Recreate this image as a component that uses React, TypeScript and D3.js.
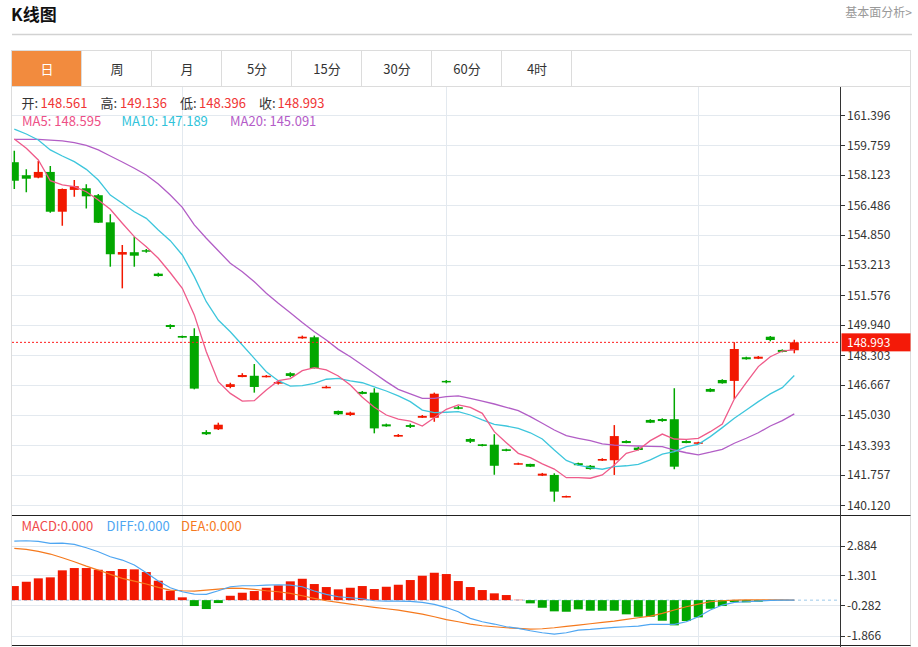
import React from 'react';
import * as d3 from 'd3';

// daily candles, oldest first: open, high, low, close
const opens = [158.82, 158.11, 157.98, 158.29, 156.12, 157.31, 157.40, 157.02, 155.54, 153.78, 153.91, 154.02, 152.74, 149.94, 149.34, 149.34, 144.10, 144.25, 146.56, 147.10, 147.17, 147.10, 146.74, 147.31, 149.21, 149.27, 146.50, 145.25, 145.03, 146.29, 146.25, 144.52, 143.85, 144.48, 144.88, 144.88, 146.89, 145.45, 143.72, 143.43, 143.41, 143.16, 142.34, 142.36, 141.72, 141.76, 140.56, 142.40, 142.26, 142.54, 142.56, 143.61, 143.25, 144.76, 144.81, 144.80, 143.61, 143.46, 146.45, 146.94, 146.89, 148.18, 148.10, 149.30, 148.58, 148.561];
const highs = [159.45, 158.43, 158.89, 158.61, 157.38, 157.85, 157.62, 157.09, 155.98, 154.30, 154.76, 154.09, 152.79, 149.98, 149.36, 149.76, 144.20, 144.61, 146.79, 147.31, 147.81, 147.21, 146.89, 147.36, 149.36, 149.36, 146.63, 145.27, 145.21, 146.34, 146.49, 144.56, 143.99, 144.56, 145.03, 146.25, 146.94, 145.52, 143.76, 143.45, 143.98, 143.19, 142.43, 142.37, 141.87, 141.85, 140.63, 142.43, 142.30, 142.67, 144.48, 143.65, 143.30, 144.80, 144.85, 146.49, 143.65, 143.57, 146.49, 146.98, 149.00, 148.21, 148.25, 149.34, 148.61, 149.136];
const lows = [157.36, 157.18, 157.95, 156.07, 155.36, 156.94, 156.29, 155.50, 153.12, 151.94, 153.12, 153.88, 152.58, 149.72, 149.23, 146.43, 143.94, 144.21, 146.49, 147.09, 146.25, 147.08, 146.69, 147.09, 149.19, 147.57, 146.49, 145.03, 144.98, 146.16, 144.03, 144.39, 143.83, 144.32, 144.87, 144.66, 146.76, 145.34, 143.50, 143.32, 141.77, 143.05, 142.32, 142.19, 141.70, 140.30, 140.54, 142.26, 142.05, 142.52, 141.76, 143.49, 143.10, 144.59, 144.66, 142.07, 143.49, 143.45, 146.28, 146.74, 145.90, 148.05, 148.08, 149.05, 148.45, 148.396];
const closes = [157.81, 157.92, 158.29, 156.12, 157.36, 157.51, 156.96, 155.52, 153.80, 153.92, 153.72, 153.94, 152.61, 149.83, 149.25, 146.47, 143.98, 144.50, 146.71, 147.21, 146.56, 147.17, 146.83, 147.16, 149.30, 147.58, 146.57, 145.07, 145.16, 146.18, 144.30, 144.41, 143.94, 144.38, 144.98, 146.19, 146.83, 145.37, 143.57, 143.34, 142.26, 143.07, 142.40, 142.21, 141.83, 140.85, 140.61, 142.29, 142.08, 142.63, 143.88, 143.50, 143.12, 144.61, 144.70, 142.21, 143.50, 143.54, 146.30, 146.76, 148.63, 148.07, 148.21, 149.12, 148.47, 148.993];

const ma5 = [160.09, 159.58, 158.94, 157.81, 157.58, 157.49, 157.21, 156.76, 156.25, 155.49, 154.76, 154.21, 153.58, 152.79, 151.94, 150.49, 148.48, 146.85, 146.21, 145.79, 145.81, 146.39, 146.90, 147.02, 147.45, 147.61, 147.49, 147.16, 146.67, 146.00, 145.45, 145.03, 144.81, 144.70, 144.43, 144.88, 145.34, 145.58, 145.45, 145.12, 144.12, 143.52, 142.94, 142.70, 142.36, 142.08, 141.61, 141.61, 141.58, 141.76, 142.30, 142.94, 143.12, 143.63, 143.99, 143.72, 143.70, 143.76, 144.12, 144.54, 145.90, 146.79, 147.67, 148.21, 148.52, 148.595];
const ma10 = [160.63, 160.36, 160.03, 159.49, 159.16, 158.85, 158.43, 157.85, 157.03, 156.58, 156.12, 155.76, 155.12, 154.54, 153.76, 152.58, 151.21, 150.21, 149.57, 148.85, 148.12, 147.39, 146.90, 146.61, 146.63, 146.76, 146.98, 147.03, 146.89, 146.79, 146.57, 146.34, 146.07, 145.76, 145.30, 145.16, 145.18, 145.21, 145.03, 144.76, 144.52, 144.43, 144.30, 144.06, 143.72, 143.12, 142.55, 142.30, 142.16, 142.07, 142.21, 142.26, 142.34, 142.58, 142.89, 143.03, 143.30, 143.43, 143.85, 144.34, 144.85, 145.30, 145.76, 146.18, 146.52, 147.189];
const ma20 = [160.07, 160.07, 160.07, 160.03, 159.98, 159.89, 159.74, 159.49, 159.16, 158.83, 158.49, 158.12, 157.63, 157.03, 156.36, 155.40, 154.67, 153.99, 153.31, 152.85, 152.30, 151.67, 151.12, 150.61, 150.07, 149.57, 149.12, 148.61, 148.21, 147.76, 147.31, 146.85, 146.43, 146.18, 145.94, 145.94, 146.03, 146.07, 145.94, 145.79, 145.63, 145.45, 145.27, 144.94, 144.58, 144.21, 143.90, 143.76, 143.63, 143.45, 143.39, 143.36, 143.34, 143.32, 143.30, 143.12, 142.97, 142.86, 143.00, 143.16, 143.49, 143.76, 144.06, 144.43, 144.72, 145.091];

const macdHist = [0.744, 0.971, 1.150, 1.203, 1.573, 1.694, 1.694, 1.604, 1.536, 1.641, 1.625, 1.483, 1.024, 0.496, 0.148, -0.311, -0.470, -0.153, 0.232, 0.391, 0.480, 0.654, 0.781, 0.992, 1.129, 0.850, 0.691, 0.570, 0.654, 0.744, 0.586, 0.707, 0.813, 1.061, 1.288, 1.446, 1.377, 1.008, 0.691, 0.533, 0.359, 0.269, 0.02, -0.169, -0.401, -0.591, -0.612, -0.485, -0.559, -0.559, -0.559, -0.749, -0.876, -0.876, -1.087, -1.330, -1.103, -0.908, -0.454, -0.311, -0.100, -0.116, -0.084, -0.032, -0.011, 0];
const diff = [3.119, 3.135, 3.103, 2.997, 3.013, 2.945, 2.765, 2.554, 2.290, 2.116, 1.852, 1.446, 1.008, 0.654, 0.443, 0.322, 0.306, 0.496, 0.707, 0.760, 0.760, 0.797, 0.813, 0.797, 0.707, 0.480, 0.306, 0.179, 0.127, 0.074, -0.032, -0.047, -0.047, -0.063, -0.116, -0.222, -0.391, -0.612, -0.960, -1.140, -1.261, -1.404, -1.488, -1.615, -1.720, -1.789, -1.720, -1.578, -1.541, -1.488, -1.435, -1.404, -1.367, -1.277, -1.277, -1.277, -1.140, -0.876, -0.522, -0.259, -0.116, -0.084, -0.047, -0.011, 0.005, 0];
const dea = [2.734, 2.681, 2.575, 2.433, 2.237, 2.026, 1.799, 1.588, 1.361, 1.150, 1.008, 0.850, 0.675, 0.533, 0.496, 0.480, 0.533, 0.586, 0.639, 0.623, 0.570, 0.496, 0.443, 0.359, 0.232, 0.095, -0.032, -0.116, -0.206, -0.296, -0.380, -0.454, -0.522, -0.628, -0.734, -0.876, -1.024, -1.140, -1.261, -1.351, -1.404, -1.456, -1.488, -1.525, -1.509, -1.456, -1.383, -1.314, -1.245, -1.172, -1.103, -1.013, -0.929, -0.839, -0.697, -0.522, -0.348, -0.206, -0.084, -0.032, 0.005, 0.01, 0.01, 0.01, 0.01, 0];

const priceTicks = ['161.396', '159.759', '158.123', '156.486', '154.850', '153.213', '151.576', '149.940', '148.303', '146.667', '145.030', '143.393', '141.757', '140.120'];
const macdTicks = ['2.884', '1.301', '-0.282', '-1.866'];
const tabs = ['日', '周', '月', '5分', '15分', '30分', '60分', '4时'];
const monthStarts = [14, 36, 57];

const FONT = '"Noto Sans CJK SC", "Noto Sans", sans-serif';
const RED = '#f21800';
const GREEN = '#02a700';
const GRID = '#e3e9ef';

const LEFT = 12;
const AXIS_X = 840;
const RIGHT = 910.5;
const PRICE_TOP = 87;
const PRICE_BOTTOM = 515.5;
const MACD_BOTTOM = 645.5;
const BODY_W = 9;

export default function App() {
  const n = closes.length;
  const x = d3.scaleLinear().domain([0, n - 1]).range([14.3, 14.3 + 12 * (n - 1)]);
  const y = d3.scaleLinear().domain([140.12, 161.396]).range([505, 115]);
  const ym = d3.scaleLinear().domain([-1.866, 2.884]).range([635.5, 545.5]);

  const priceLine = (vals: number[]) =>
    d3.line<number>().x((_, i) => x(i)).y(d => y(d))(vals) || '';
  const macdLine = (vals: number[]) =>
    d3.line<number>().x((_, i) => x(i)).y(d => ym(d))(vals) || '';

  const last = n - 1;
  const lastY = y(closes[last]);

  return (
    <svg width={918} height={647} style={{ position: 'absolute', left: 0, top: 0, fontFamily: FONT }}>
      <defs>
        <clipPath id="pclip">
          <rect x={LEFT} y={PRICE_TOP} width={AXIS_X - LEFT} height={PRICE_BOTTOM - PRICE_TOP} />
        </clipPath>
        <clipPath id="mclip">
          <rect x={LEFT} y={PRICE_BOTTOM} width={AXIS_X - LEFT} height={MACD_BOTTOM - PRICE_BOTTOM} />
        </clipPath>
      </defs>
      <rect width={918} height={647} fill="#fff" />

      {/* title row */}
      <text x={11} y={21} fontSize={17} fontWeight="bold" fill="#111">K线图</text>
      <text x={912} y={17} fontSize={12} fill="#999" textAnchor="end">基本面分析&gt;</text>
      <line x1={12} x2={912} y1={34.5} y2={34.5} stroke="#d2d2d2" strokeWidth={1.5} />

      {/* tabs */}
      <rect x={LEFT - 0.5} y={50.5} width={RIGHT - LEFT + 0.5} height={36} fill="#fff" stroke="#dcdcdc" />
      {tabs.map((t, i) => (
        <g key={t}>
          <rect x={LEFT + 70 * i - 0.5} y={50.5} width={70} height={36}
            fill={i === 0 ? '#f28b3e' : '#fff'} stroke="#dcdcdc" />
          <text x={LEFT + 70 * i + 35} y={73.5} fontSize={13} textAnchor="middle"
            fill={i === 0 ? '#fff' : '#333'}>{t}</text>
        </g>
      ))}

      {/* frame */}
      <line x1={LEFT - 0.5} x2={LEFT - 0.5} y1={86.5} y2={647} stroke="#dcdcdc" />
      <line x1={RIGHT} x2={RIGHT} y1={86.5} y2={647} stroke="#dcdcdc" />

      {/* grids */}
      {priceTicks.map(t => (
        <line key={t} x1={LEFT} x2={AXIS_X} y1={Math.round(y(+t)) + 0.5} y2={Math.round(y(+t)) + 0.5} stroke={GRID} />
      ))}
      {macdTicks.map(t => (
        <line key={t} x1={LEFT} x2={AXIS_X} y1={Math.round(ym(+t)) + 0.5} y2={Math.round(ym(+t)) + 0.5} stroke={GRID} />
      ))}
      {monthStarts.map(i => (
        <line key={i} x1={Math.round(x(i)) + 0.5} x2={Math.round(x(i)) + 0.5} y1={PRICE_TOP} y2={MACD_BOTTOM} stroke={GRID} />
      ))}

      {/* candles */}
      <g clipPath="url(#pclip)">
        {closes.map((c, i) => {
          const o = opens[i];
          const up = c >= o;
          const col = up ? RED : GREEN;
          const top = y(Math.max(o, c));
          const h = Math.max(1.5, Math.abs(y(o) - y(c)));
          return (
            <g key={i}>
              <line x1={x(i)} x2={x(i)} y1={y(highs[i])} y2={y(lows[i])} stroke={col} strokeWidth={1.5} />
              <rect x={x(i) - BODY_W / 2} y={top} width={BODY_W} height={h} fill={col} />
            </g>
          );
        })}
        <path d={priceLine(ma20)} fill="none" stroke="#b25ec6" strokeWidth={1.3} />
        <path d={priceLine(ma10)} fill="none" stroke="#3ec6dc" strokeWidth={1.3} />
        <path d={priceLine(ma5)} fill="none" stroke="#ef5b8a" strokeWidth={1.3} />
        <line x1={LEFT} x2={AXIS_X} y1={lastY} y2={lastY} stroke="#ff1a1a" strokeDasharray="2,2" />
      </g>

      {/* price header */}
      <g fontSize={13}>
        <text x={21.5} y={108} fill="#333">开:</text>
        <text x={40.5} y={108} fill="#f03535">{opens[last].toFixed(3)}</text>
        <text x={100.5} y={108} fill="#333">高:</text>
        <text x={120} y={108} fill="#f03535">{highs[last].toFixed(3)}</text>
        <text x={180} y={108} fill="#333">低:</text>
        <text x={199} y={108} fill="#f03535">{lows[last].toFixed(3)}</text>
        <text x={259} y={108} fill="#333">收:</text>
        <text x={277.5} y={108} fill="#f03535">{closes[last].toFixed(3)}</text>
        <text x={22} y={125.5} fill="#ee4f86">MA5: {ma5[last].toFixed(3)}</text>
        <text x={121.5} y={125.5} fill="#31c3da">MA10: {ma10[last].toFixed(3)}</text>
        <text x={230} y={125.5} fill="#b45cc8">MA20: {ma20[last].toFixed(3)}</text>
      </g>

      {/* MACD */}
      <g clipPath="url(#mclip)">
        <line x1={LEFT} x2={AXIS_X} y1={ym(0)} y2={ym(0)} stroke="#9cc9ea" strokeDasharray="3,3" />
        {macdHist.map((v, i) => (
          <rect key={i} x={x(i) - BODY_W / 2} y={Math.min(ym(v), ym(0))}
            width={BODY_W} height={Math.abs(ym(v) - ym(0))} fill={v >= 0 ? RED : GREEN} />
        ))}
        <path d={macdLine(dea)} fill="none" stroke="#f5791d" strokeWidth={1.2} />
        <path d={macdLine(diff)} fill="none" stroke="#4ea6f2" strokeWidth={1.2} />
      </g>
      <g fontSize={13}>
        <text x={21.5} y={531} fill="#f04a4a">MACD:{(0).toFixed(3)}</text>
        <text x={106.5} y={531} fill="#4ea6f2">DIFF:{(0).toFixed(3)}</text>
        <text x={181} y={531} fill="#f5791d">DEA:{(0).toFixed(3)}</text>
      </g>

      {/* panel separators */}
      <line x1={LEFT} x2={RIGHT} y1={PRICE_BOTTOM} y2={PRICE_BOTTOM} stroke="#222" />
      <line x1={LEFT} x2={RIGHT} y1={MACD_BOTTOM} y2={MACD_BOTTOM} stroke="#222" />

      {/* right axis */}
      <line x1={AXIS_X + 0.5} x2={AXIS_X + 0.5} y1={PRICE_TOP} y2={647} stroke="#333" />
      {priceTicks.map(t => (
        <g key={t} fontSize={12} fill="#333">
          <line x1={AXIS_X} x2={AXIS_X + 5} y1={Math.round(y(+t)) + 0.5} y2={Math.round(y(+t)) + 0.5} stroke="#333" />
          <text x={AXIS_X + 7} y={y(+t) + 4.5}>{t}</text>
        </g>
      ))}
      {macdTicks.map(t => (
        <g key={t} fontSize={12} fill="#333">
          <line x1={AXIS_X} x2={AXIS_X + 5} y1={Math.round(ym(+t)) + 0.5} y2={Math.round(ym(+t)) + 0.5} stroke="#333" />
          <text x={AXIS_X + 7} y={ym(+t) + 4.5}>{t}</text>
        </g>
      ))}
      <rect x={AXIS_X + 1.5} y={lastY - 9} width={RIGHT - AXIS_X - 1.5} height={18} fill="#f41a08" />
      <text x={AXIS_X + 7} y={lastY + 4.5} fontSize={12} fill="#fff">{closes[last].toFixed(3)}</text>
    </svg>
  );
}
